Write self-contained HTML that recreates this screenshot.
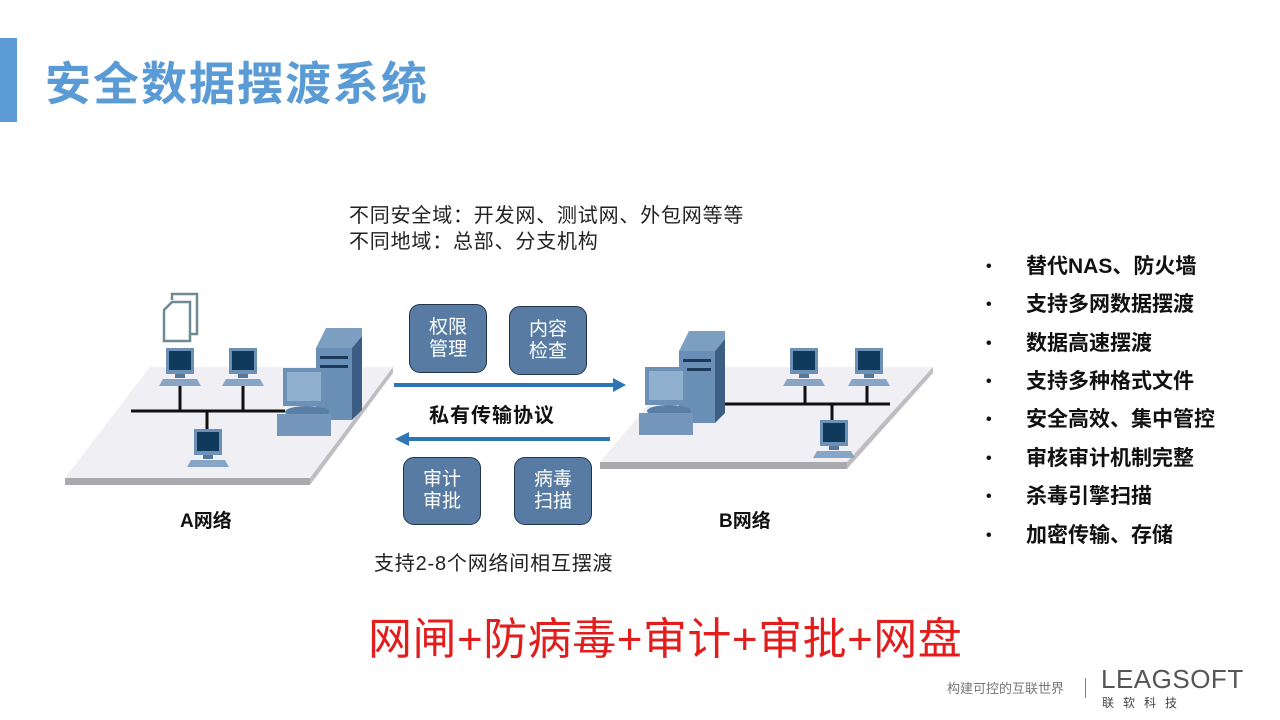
<!DOCTYPE html>
<html><head><meta charset="utf-8"><style>
body{margin:0;width:1280px;height:720px;background:#fff;overflow:hidden;position:relative;font-family:"Liberation Sans","Noto Sans CJK SC",sans-serif}
.t{position:absolute;white-space:nowrap}
.box{position:absolute;background:#587ba3;border:1.5px solid #23354d;border-radius:11px;color:#fff;font-size:19px;line-height:22px;text-align:center;display:flex;align-items:center;justify-content:center}
.b{position:absolute;left:986px;font-size:21px;font-weight:bold;color:#111;line-height:26px}
.b i{position:absolute;left:0;top:0;font-style:normal;font-size:16px;line-height:26px}
.b span{position:absolute;left:40px;white-space:nowrap}
</style></head><body>
<div style="position:absolute;left:0;top:38px;width:17px;height:84px;background:#5b9bd5"></div>
<div class="t" style="left:45px;top:48px;font-size:46px;font-weight:bold;color:#5b9bd5;letter-spacing:2px">安全数据摆渡系统</div>

<svg width="1280" height="720" style="position:absolute;left:0;top:0">
<defs>
<g id="pc"><rect x="0" y="0" width="28" height="26" fill="#6d91b6"/><rect x="3" y="3" width="22" height="19" fill="#0f3a5c"/><rect x="9" y="26" width="10" height="4" fill="#55789c"/><polygon points="-3,31 31,31 35,38 -7,38" fill="#87a5c5"/></g>
<g id="srv"><polygon points="0,20 10,0 46,0 46,8 36,20" fill="#7c9ec1"/><rect x="0" y="20" width="36" height="72" fill="#6a8fb6"/><polygon points="36,20 46,8 46,82 36,92" fill="#3c5e85"/><rect x="4" y="28" width="28" height="3" fill="#1e3a5a"/><rect x="4" y="37" width="28" height="3" fill="#1e3a5a"/></g>
<g id="mon"><rect x="0" y="0" width="42" height="38" fill="#6d91b6"/><rect x="4" y="4" width="34" height="29" fill="#8fb0cf"/><ellipse cx="24" cy="44" rx="22" ry="6" fill="#5a7fa6"/><rect x="-6" y="46" width="54" height="22" fill="#7597bb"/></g>
</defs>
<polygon points="150,367 393,367 310,478 65,478" fill="#f0f0f4"/>
<rect x="65" y="478" width="245" height="7" fill="#a9a9ae"/>
<polygon points="393,367 393,373 310,485 310,478" fill="#bdbdc2"/>
<polygon points="680,367 933,367 847,462 600,462" fill="#f0f0f4"/>
<rect x="600" y="462" width="247" height="7" fill="#a9a9ae"/>
<polygon points="933,367 933,373 847,469 847,462" fill="#bdbdc2"/>
<g stroke="#111" stroke-width="3"><line x1="131" y1="411" x2="285" y2="411"/><line x1="180" y1="385" x2="180" y2="411"/><line x1="243" y1="385" x2="243" y2="411"/><line x1="207" y1="411" x2="207" y2="430"/></g>
<g fill="none" stroke="#6e8a93" stroke-width="2.5"><polyline points="172,300 172,294 197,294 197,334 190,334"/><polygon points="164,310 172,302 190,302 190,341 164,341" fill="#fff"/></g>
<use href="#pc" x="166" y="348"/><use href="#pc" x="229" y="348"/><use href="#pc" x="194" y="429"/>
<use href="#srv" x="316" y="328"/><use href="#mon" x="283" y="368"/>
<g stroke="#111" stroke-width="3"><line x1="718" y1="404" x2="890" y2="404"/><line x1="805" y1="382" x2="805" y2="404"/><line x1="867" y1="382" x2="867" y2="404"/><line x1="832" y1="404" x2="832" y2="421"/></g>
<use href="#pc" x="790" y="348"/><use href="#pc" x="855" y="348"/><use href="#pc" x="820" y="420"/>
<use href="#srv" x="679" y="331"/><use href="#mon" x="645" y="367"/>
<line x1="394" y1="385" x2="615" y2="385" stroke="#2e75b6" stroke-width="4"/><polygon points="613,378 626,385 613,392" fill="#2e75b6"/>
<line x1="407" y1="439" x2="610" y2="439" stroke="#2e75b6" stroke-width="4"/><polygon points="409,432 395,439 409,446" fill="#2e75b6"/>
</svg>

<div class="t" style="left:349px;top:203px;font-size:20px;line-height:26px;color:#222;letter-spacing:0.8px">不同安全域：开发网、测试网、外包网等等<br>不同地域：总部、分支机构</div>
<div class="box" style="left:409px;top:304px;width:76px;height:67px">权限<br>管理</div>
<div class="box" style="left:509px;top:306px;width:76px;height:67px">内容<br>检查</div>
<div class="box" style="left:403px;top:457px;width:76px;height:66px">审计<br>审批</div>
<div class="box" style="left:514px;top:457px;width:76px;height:66px">病毒<br>扫描</div>
<div class="t" style="left:429px;top:399px;font-size:20px;font-weight:bold;color:#111;letter-spacing:1px">私有传输协议</div>
<div class="t" style="left:180px;top:506px;font-size:19px;font-weight:bold;color:#111">A网络</div>
<div class="t" style="left:719px;top:506px;font-size:19px;font-weight:bold;color:#111">B网络</div>
<div class="t" style="left:374px;top:547px;font-size:20px;color:#222;letter-spacing:0.8px">支持2-8个网络间相互摆渡</div>
<div class="t" style="left:368px;top:603px;font-size:44px;color:#e31c1c;letter-spacing:0.5px">网闸+防病毒+审计+审批+网盘</div>

<div class="b" style="top:254px"><i>•</i><span>替代NAS、防火墙</span></div>
<div class="b" style="top:292px"><i>•</i><span>支持多网数据摆渡</span></div>
<div class="b" style="top:331px"><i>•</i><span>数据高速摆渡</span></div>
<div class="b" style="top:369px"><i>•</i><span>支持多种格式文件</span></div>
<div class="b" style="top:407px"><i>•</i><span>安全高效、集中管控</span></div>
<div class="b" style="top:446px"><i>•</i><span>审核审计机制完整</span></div>
<div class="b" style="top:484px"><i>•</i><span>杀毒引擎扫描</span></div>
<div class="b" style="top:523px"><i>•</i><span>加密传输、存储</span></div>

<div class="t" style="left:947px;top:678px;font-size:13px;color:#777">构建可控的互联世界</div>
<div style="position:absolute;left:1085px;top:678px;width:1px;height:20px;background:#6a8a90"></div>
<div class="t" style="left:1101px;top:664px;font-size:26px;color:#555;letter-spacing:0.5px">LEAGSOFT</div>
<div class="t" style="left:1102px;top:694px;font-size:12px;color:#444;letter-spacing:9px">联软科技</div>
</body></html>
